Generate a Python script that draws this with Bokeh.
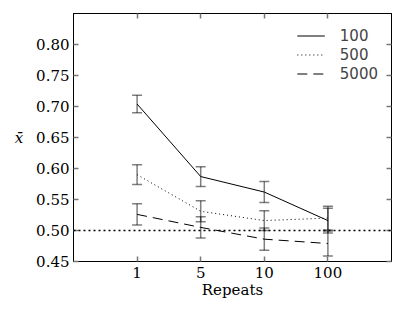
from bokeh.plotting import figure
from bokeh.models import (Range1d, FixedTicker, LinearAxis, Whisker, TeeHead,
                          ColumnDataSource, Span, Legend, LegendItem, PrintfTickFormatter)
from bokeh.embed import file_html
from bokeh.resources import INLINE

# ---- data ----
x_labels = ["1", "5", "10", "100"]
series_names = ["100", "500", "5000"]
mean_100 = [0.704, 0.587, 0.562, 0.516]
err_100 = [0.014, 0.016, 0.017, 0.020]
mean_500 = [0.590, 0.531, 0.516, 0.520]
err_500 = [0.016, 0.017, 0.016, 0.019]
mean_5000 = [0.526, 0.505, 0.486, 0.479]
err_5000 = [0.017, 0.017, 0.018, 0.020]
y_ticks = [0.45, 0.50, 0.55, 0.60, 0.65, 0.70, 0.75, 0.80]
reference_value = 0.5

xs = list(range(len(x_labels)))
SERIF = "DejaVu Serif"
SANS = "DejaVu Sans"
FS = "15px"

p = figure(width=404, height=317, output_backend="svg", toolbar_location=None,
           x_range=Range1d(-1, len(x_labels)), y_range=Range1d(0.45, 0.85),
           min_border_left=73, min_border_right=13, min_border_top=13, min_border_bottom=56,
           background_fill_color="white", border_fill_color="white")
p.grid.visible = False
p.outline_line_color = "black"
p.outline_line_width = 1

xaxis = p.xaxis[0]
xaxis.ticker = FixedTicker(ticks=xs)
xaxis.major_label_overrides = {i: lab for i, lab in enumerate(x_labels)}
yaxis = p.yaxis[0]
yaxis.ticker = FixedTicker(ticks=y_ticks)
yaxis.formatter = PrintfTickFormatter(format="%.2f")

xaxis.axis_label = "Repeats"
yaxis.axis_label = "x\u0304"
yaxis.axis_label_orientation = "horizontal"
yaxis.axis_label_text_font_style = "italic"
xaxis.axis_label_text_font_style = "normal"

for ax in (xaxis, yaxis):
    ax.major_label_text_font = SERIF
    ax.major_label_text_font_size = FS
    ax.major_label_text_color = "black"
    ax.axis_label_text_font = SERIF
    ax.axis_label_text_font_size = FS
    ax.axis_label_text_color = "black"
    ax.major_tick_in = 5
    ax.major_tick_out = 0
    ax.minor_tick_in = 0
    ax.minor_tick_out = 0
    ax.major_tick_line_color = "#777777"
    ax.major_tick_line_width = 1.5
    ax.axis_line_color = "black"
xaxis.major_label_standoff = 5
yaxis.major_label_standoff = 4
xaxis.axis_label_standoff = 0
yaxis.axis_label_standoff = 10

top = LinearAxis(ticker=FixedTicker(ticks=xs),
                 major_label_overrides={i: "" for i in xs},
                 major_tick_in=5, major_tick_out=0, minor_tick_in=0, minor_tick_out=0,
                 major_tick_line_color="#777777", major_tick_line_width=1.5,
                 major_label_standoff=0, axis_line_color="black")
right = LinearAxis(ticker=FixedTicker(ticks=y_ticks),
                   major_label_overrides={t: "" for t in y_ticks},
                   major_tick_in=5, major_tick_out=0, minor_tick_in=0, minor_tick_out=0,
                   major_tick_line_color="#777777", major_tick_line_width=1.5,
                   major_label_standoff=0, axis_line_color="black")
p.add_layout(top, "above")
p.add_layout(right, "right")

p.add_layout(Span(location=reference_value, dimension="width", line_color="black",
                  line_dash="2 3", line_width=1.5))

styles = ["solid", "1 3", "10 6"]
means = [mean_100, mean_500, mean_5000]
errs = [err_100, err_500, err_5000]
items = []
for name, m, e, dash in zip(series_names, means, errs, styles):
    src = ColumnDataSource(dict(x=xs, y=m,
                                upper=[a + b for a, b in zip(m, e)],
                                lower=[a - b for a, b in zip(m, e)]))
    r = p.line("x", "y", source=src, line_color="black", line_width=1, line_dash=dash)
    w = Whisker(source=src, base="x", upper="upper", lower="lower",
                line_color="black", line_alpha=0.5, line_width=1.5,
                upper_head=TeeHead(size=10, line_color="black", line_alpha=0.5, line_width=1.5),
                lower_head=TeeHead(size=10, line_color="black", line_alpha=0.5, line_width=1.5))
    p.add_layout(w)
    items.append(LegendItem(label=name, renderers=[r]))

legend = Legend(items=items, location="top_right", border_line_color=None,
                background_fill_alpha=0, label_text_font=SANS, label_text_font_size=FS,
                glyph_width=28, glyph_height=19, label_height=19, spacing=0,
                label_standoff=15, margin=13, padding=3)
p.add_layout(legend)

open("out.html", "w").write(file_html(p, INLINE))
